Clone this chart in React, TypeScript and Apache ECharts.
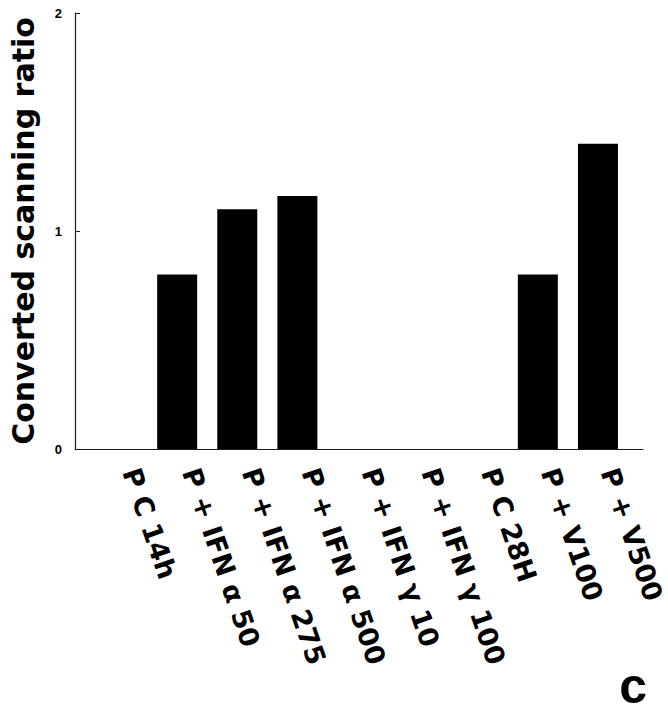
import React, { useEffect, useRef } from "react";
import * as echarts from "echarts";

const categories = [
  "P C 14h",
  "P + IFN α 50",
  "P + IFN α 275",
  "P + IFN α 500",
  "P + IFN γ 10",
  "P + IFN γ 100",
  "P C 28H",
  "P + V100",
  "P + V500",
];
const ratios = [0, 0.8, 1.1, 1.16, 0, 0, 0, 0.8, 1.4];
const yTicks = [0, 1, 2];
const yTitle = "Converted scanning ratio";
const panelLetter = "c";

const FONT = "'DejaVu Sans', 'Liberation Sans', Arial, sans-serif";
const AX = "#1a1a1a";

export default function App() {
  const ref = useRef<HTMLDivElement>(null);
  useEffect(() => {
    if (!ref.current) return;
    const chart = echarts.init(ref.current, null, { renderer: "svg" });
    const top = 13;
    const height = 436;
    chart.setOption({
      animation: false,
      backgroundColor: "#ffffff",
      grid: [
        { left: 74, width: 569, top, height },
        { left: 87, width: 541, top, height },
        { left: 101, width: 541, top, height },
      ],
      xAxis: [
        {
          gridIndex: 0,
          type: "value",
          min: 0,
          max: 1,
          axisLine: { show: true, lineStyle: { color: AX, width: 1.2 } },
          axisTick: { show: false },
          axisLabel: { show: false },
          splitLine: { show: false },
        },
        {
          gridIndex: 1,
          type: "category",
          data: categories,
          axisLine: { show: false },
          axisTick: { show: false },
          axisLabel: { show: false },
        },
        {
          gridIndex: 2,
          type: "category",
          data: categories,
          axisLine: { show: false },
          axisTick: { show: false },
          axisLabel: {
            show: true,
            interval: 0,
            rotate: -71,
            margin: 20,
            color: "#000",
            fontFamily: FONT,
            fontWeight: "bold",
            fontSize: 27,
          },
        },
      ],
      yAxis: [
        {
          gridIndex: 0,
          type: "value",
          min: yTicks[0],
          max: yTicks[yTicks.length - 1],
          interval: 1,
          axisLine: { show: true, lineStyle: { color: AX, width: 1.2 } },
          axisTick: { show: true, inside: true, length: 5, lineStyle: { color: AX } },
          axisLabel: {
            color: "#000",
            fontFamily: "'Liberation Sans', Arial, sans-serif",
            fontWeight: "bold",
            fontSize: 13,
            margin: 13,
          },
          splitLine: { show: false },
          name: yTitle,
          nameLocation: "middle",
          nameRotate: 90,
          nameGap: 37,
          nameTextStyle: {
            color: "#000",
            fontFamily: FONT,
            fontWeight: "bold",
            fontSize: 30,
          },
        },
        {
          gridIndex: 1,
          type: "value",
          min: 0,
          max: 2,
          show: false,
        },
        {
          gridIndex: 2,
          type: "value",
          min: 0,
          max: 2,
          show: false,
        },
      ],
      series: [
        {
          type: "bar",
          xAxisIndex: 1,
          yAxisIndex: 1,
          data: ratios,
          barWidth: 40,
          itemStyle: { color: "#000" },
        },
      ],
      graphic: [
        {
          type: "text",
          right: 21,
          bottom: 9,
          style: {
            text: panelLetter,
            fill: "#000",
            font: "bold 50px 'Liberation Sans', Arial, sans-serif",
          },
        },
      ],
    });
    return () => chart.dispose();
  }, []);
  return (
    <div
      ref={ref}
      style={{ position: "fixed", left: 0, top: 0, width: 668, height: 720, background: "#fff" }}
    />
  );
}
